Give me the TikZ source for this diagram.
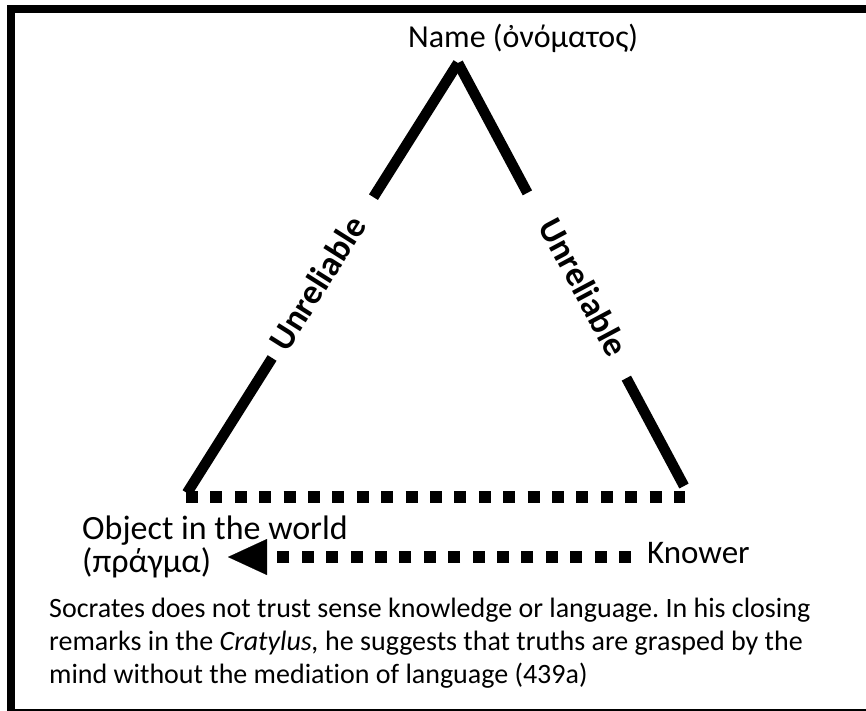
\documentclass[tikz,border=0pt]{standalone}
\usepackage{fontspec}
\setmainfont{Carlito}[Ligatures=NoCommon]
\usetikzlibrary{arrows.meta,calc}
\frenchspacing
\begin{document}
\begin{tikzpicture}[x=1pt,y=-1pt,
  leg/.style={line width=10.5pt, line cap=butt},
  dotrow/.style={line width=12pt, line cap=butt, dash pattern=on 12pt off 12.4pt},
  lbl/.style={inner sep=0pt, anchor=base west},
  rel/.style={inner sep=0pt, anchor=center, font=\bfseries\fontsize{35}{40}\selectfont}]
\useasboundingbox (0,0) rectangle (866,710);
\clip (0,0) rectangle (866,710);
\draw[line width=8pt] (10.5,9) rectangle (880,712.5);
% corners of the triangle
\coordinate (A) at (458,63);
\coordinate (L) at (187,493);
\coordinate (R) at (684,486);
% texts
\node[lbl, font=\fontsize{32}{36}\selectfont] (name) at (408,47) {Name (ὀνόματος)};
\node[lbl, font=\fontsize{34}{38}\selectfont] (obj) at (82,539) {Object in the world};
\node[lbl, font=\fontsize{34}{38}\selectfont] (pragma) at (82,572) {(πράγμα)};
\node[lbl, font=\fontsize{33}{38}\selectfont] (knower) at (647,563) {Knower};
\node[lbl, align=left, font=\fontsize{28}{33}\selectfont] (note) at (49,683) {Socrates does not trust sense knowledge or language. In his closing\\
remarks in the \textit{Cratylus,} he suggests that truths are grasped by the\\
mind without the mediation of language (439a)};
% legs
\draw[leg] (A) -- ($(A)!0.312!(L)$);
\draw[leg] ($(A)!0.686!(L)$) -- (L);
\draw[leg] (A) -- ($(A)!0.307!(R)$);
\draw[leg] ($(A)!0.745!(R)$) -- (R);
\node[rel, rotate=57.8] (ul) at (317,283) {Unreliable};
\node[rel, rotate=-61.9] (ur) at (584,287) {Unreliable};
% dotted base
\coordinate (dl) at (186,497);
\coordinate (dr) at (685,497);
\draw[dotrow] (dl) -- (dr);
% knower arrow
\coordinate (kstart) at (631,557);
\coordinate (tip) at (228,557);
\draw[dotrow, -{Triangle[length=39pt,width=36pt,line width=0.1pt]}] (kstart) -- (tip);
\end{tikzpicture}
\end{document}
